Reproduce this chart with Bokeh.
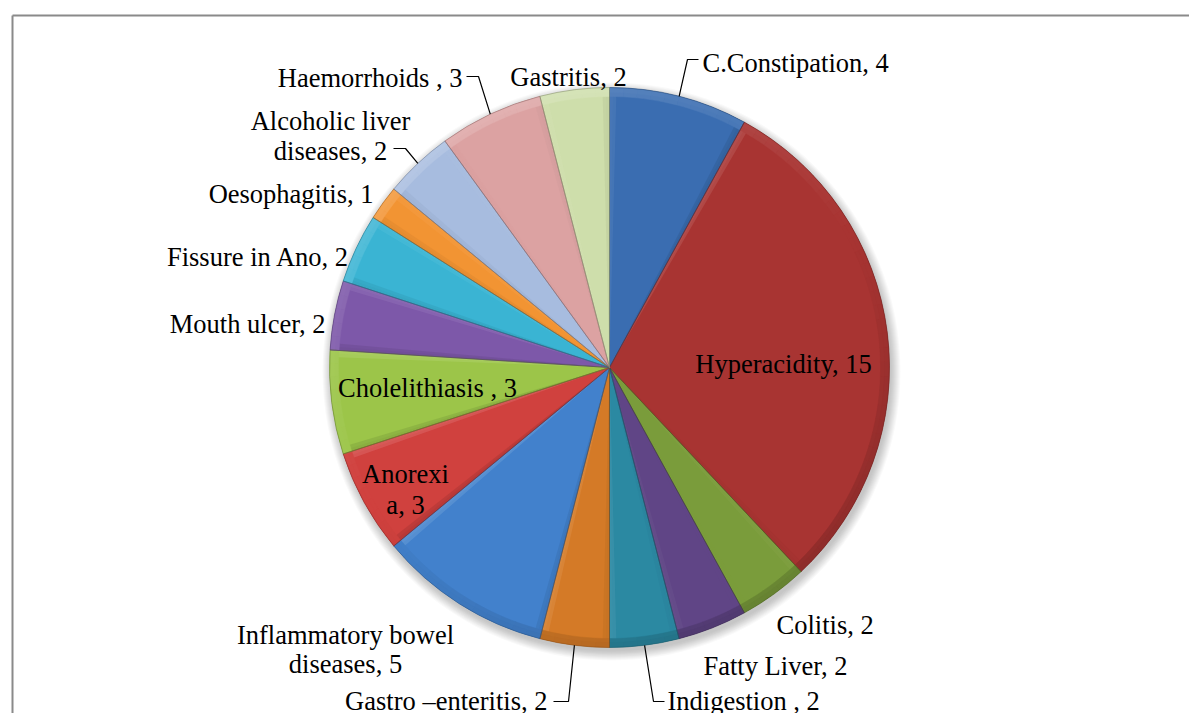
import math
from bokeh.plotting import figure
from bokeh.models import Range1d, ColumnDataSource
from bokeh.core.properties import value
from bokeh.embed import file_html
from bokeh.resources import INLINE

# ---------------- data ----------------
categories = ["C.Constipation", "Hyperacidity", "Colitis", "Fatty Liver", "Indigestion",
              "Gastro \u2013enteritis", "Inflammatory bowel diseases", "Anorexia",
              "Cholelithiasis", "Mouth ulcer", "Fissure in Ano", "Oesophagitis",
              "Alcoholic liver diseases", "Haemorrhoids", "Gastritis"]
values = [4, 15, 2, 2, 2, 2, 5, 3, 3, 2, 2, 1, 2, 3, 2]
label_lines = [["C.Constipation, 4"], ["Hyperacidity, 15"], ["Colitis, 2"], ["Fatty Liver, 2"],
               ["Indigestion , 2"], ["Gastro \u2013enteritis, 2"], ["Inflammatory bowel", "diseases, 5"],
               ["Anorexi", "a, 3"], ["Cholelithiasis , 3"], ["Mouth ulcer, 2"], ["Fissure in Ano, 2"],
               ["Oesophagitis, 1"], ["Alcoholic liver", "diseases, 2"], ["Haemorrhoids , 3"],
               ["Gastritis, 2"]]
colors = ["#3A6DB1", "#A83432", "#7A9C3B", "#604586", "#2B89A2", "#D47A27", "#4281CC",
          "#D0413E", "#9CC549", "#7D58A9", "#3AB4D3", "#F29433", "#A7BCDF", "#DCA2A2", "#CEDEAB"]

# ---------------- layout (page pixels) ----------------
W, H = 1189, 713
CX, CY, R = 609, 367, 280
FONT = "Liberation Serif"
FSIZE = "26.5px"
# label: (x, align, [baselines], leader elbows or None)
label_layout = [
    (702, "left", [62], [(687, 59), (698, 59)]),
    (783, "center", [363], None),
    (776, "left", [624], None),
    (703, "left", [665], None),
    (667, "left", [700], [(653, 701), (664, 701)]),
    (547, "right", [700], [(568, 701), (553, 701)]),
    (345, "center", [634, 663], None),
    (405, "center", [473, 504], None),
    (427, "center", [387], None),
    (325, "right", [323], None),
    (349, "right", [256], None),
    (373, "right", [193], None),
    (330, "center", [120, 150], [(405, 148), (393, 148)]),
    (462, "right", [77], [(478, 76), (466, 76)]),
    (568, "center", [76], None),
]


def X(px):
    return px


def Y(py):
    return -py


def hex2rgb(c):
    c = c.lstrip("#")
    return [int(c[i:i + 2], 16) for i in (0, 2, 4)]


def rgb2hex(r):
    return "#%02x%02x%02x" % tuple(max(0, min(255, int(round(v)))) for v in r)


def mix(c, t, f):
    a, b = hex2rgb(c), hex2rgb(t)
    return rgb2hex([a[i] + (b[i] - a[i]) * f for i in range(3)])


LIGHT = math.radians(120)


def shade(c, normal, k_light, k_dark):
    f = math.cos(normal - LIGHT)
    if f > 0:
        return mix(c, "#ffffff", f * k_light)
    return mix(c, "#000000", -f * k_dark)


p = figure(width=W, height=H, output_backend="svg", toolbar_location=None,
           x_range=Range1d(0, W), y_range=Range1d(-H, 0),
           x_axis_type=None, y_axis_type=None, min_border=0)
p.grid.visible = False
p.outline_line_color = None
p.background_fill_color = "white"
p.border_fill_color = "white"

# frame (left and top edges visible in the reference)
p.segment(x0=[X(12), X(12)], y0=[Y(15), Y(15)], x1=[X(W), X(12)], y1=[Y(15), Y(H)],
          line_color="#8a8a8a", line_width=2)

# soft shadow
for i in range(10):
    p.circle(x=[X(CX + 2)], y=[Y(CY + 4)], radius=R + 9 - i, fill_color="black",
             fill_alpha=0.022, line_color=None)

total = sum(values)
unit = 2 * math.pi / total

starts, ends, mids = [], [], []
cum = 0
for v in values:
    a_hi = math.pi / 2 - cum * unit
    a_lo = math.pi / 2 - (cum + v) * unit
    starts.append(a_lo)
    ends.append(a_hi)
    mids.append((a_lo + a_hi) / 2)
    cum += v

src = ColumnDataSource(dict(x=[X(CX)] * len(values), y=[Y(CY)] * len(values),
                            start=starts, end=ends, color=colors,
                            edge=[mix(c, "#000000", 0.35) for c in colors],
                            cat=categories, val=values))
p.wedge(x="x", y="y", radius=R, start_angle="start", end_angle="end",
        fill_color="color", line_color=None, source=src)

# bevel: radial edge strips (two soft layers) and outer rim
for width_px, kl, kd in ((7.0, 0.12, 0.10), (3.5, 0.14, 0.12)):
    d = width_px / R
    sx, sy, ss, se, sc = [], [], [], [], []
    for a1, a2, c in zip(starts, ends, colors):
        for (b1, b2, nrm) in ((a1, a1 + d, a1 - math.pi / 2), (a2 - d, a2, a2 + math.pi / 2)):
            sx.append(X(CX)); sy.append(Y(CY)); ss.append(b1); se.append(b2)
            sc.append(shade(c, nrm, kl, kd))
    p.wedge(x=sx, y=sy, radius=R - 1, start_angle=ss, end_angle=se, fill_color=sc,
            fill_alpha=0.9, line_color=None)

step = math.radians(3)
for inner, kl, kd in ((R - 9, 0.14, 0.14), (R - 5, 0.16, 0.16)):
    rx, ry, rs, re_, rc = [], [], [], [], []
    for a1, a2, c in zip(starts, ends, colors):
        n = max(1, int(math.ceil((a2 - a1) / step)))
        for k in range(n):
            b1 = a1 + (a2 - a1) * k / n
            b2 = a1 + (a2 - a1) * (k + 1) / n
            rx.append(X(CX)); ry.append(Y(CY)); rs.append(b1); re_.append(b2)
            rc.append(shade(c, (b1 + b2) / 2, kl, kd))
    p.annular_wedge(x=rx, y=ry, inner_radius=inner, outer_radius=R - 0.5, start_angle=rs,
                    end_angle=re_, fill_color=rc, line_color=rc, line_width=0.5)

# separator lines
p.wedge(x="x", y="y", radius=R, start_angle="start", end_angle="end",
        fill_color=None, line_color="edge", line_width=0.8, line_alpha=0.7, source=src)

# labels
tx, ty, tt, ta = [], [], [], []
for i, lines in enumerate(label_lines):
    lx, align, bases, elbows = label_layout[i]
    for line, b in zip(lines, bases):
        tx.append(X(lx)); ty.append(Y(b)); tt.append(line); ta.append(align)
    if elbows:
        m = mids[i]
        xs = [X(CX + R * math.cos(m))] + [X(e[0]) for e in elbows]
        ys = [Y(CY - R * math.sin(m))] + [Y(e[1]) for e in elbows]
        p.line(xs, ys, line_color="black", line_width=1.2)

tsrc = ColumnDataSource(dict(x=tx, y=ty, text=tt, align=ta))
p.text(x="x", y="y", text="text", text_align="align", text_baseline="alphabetic",
       text_font=value(FONT), text_font_size=value(FSIZE), text_color="black", source=tsrc)

open("out.html", "w").write(file_html(p, INLINE))
